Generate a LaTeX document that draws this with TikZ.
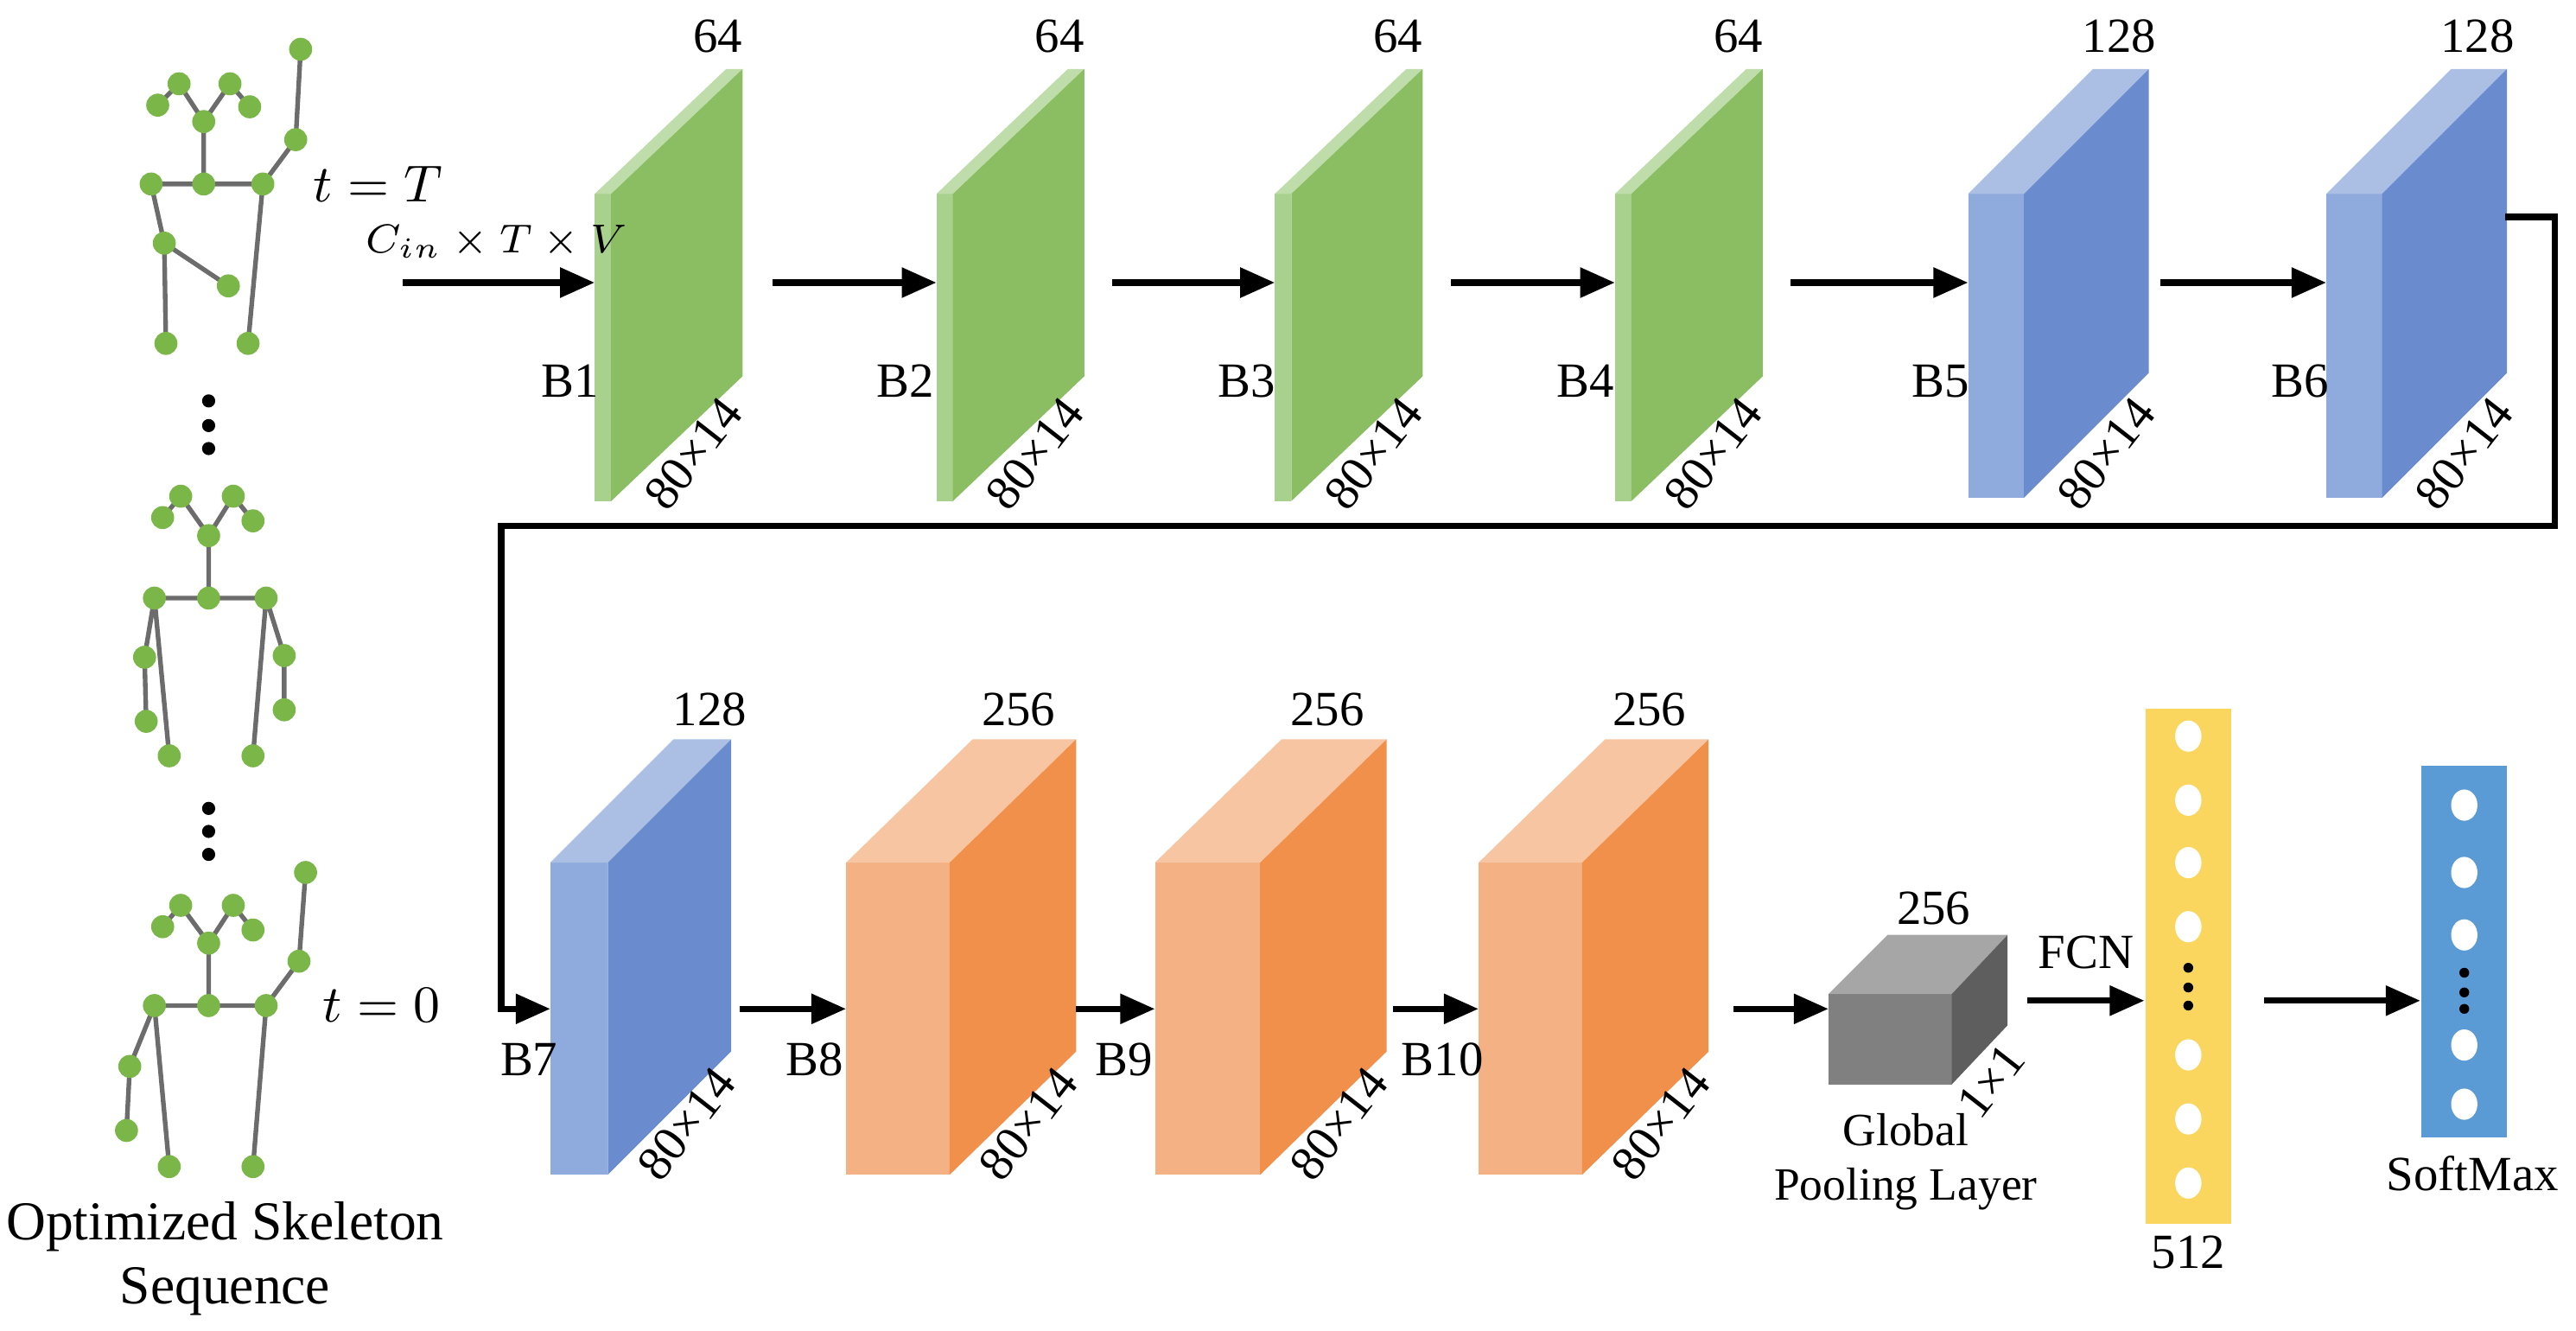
\documentclass[tikz,border=0pt]{standalone}
\usepackage{fontspec}
\setmainfont{Liberation Serif}
\usetikzlibrary{arrows.meta,calc,shapes.geometric}
\definecolor{gD}{HTML}{8BBE62}\definecolor{gL}{HTML}{A9D18E}
\definecolor{bD}{HTML}{6A8CCF}\definecolor{bL}{HTML}{8FAADC}
\definecolor{oD}{HTML}{F0904B}\definecolor{oL}{HTML}{F4B183}
\definecolor{yel}{HTML}{FAD65F}\definecolor{smb}{HTML}{5B9BD5}
\definecolor{jt}{HTML}{7AB648}
\newcommand\cube[9]{%
 \fill[#8] (#2,#4) rectangle (#3,#5);
 \fill[#8!75!white] (#2,#4)--(#3,#4)--(#3+#6,#4-#7)--(#2+#6,#4-#7)--cycle;
 \fill[#9] (#3,#4)--(#3+#6,#4-#7)--(#3+#6,#5-#7)--(#3,#5)--cycle;
 \coordinate (#1) at (#2,{(#4+#5)/2});
 \coordinate (#1r) at (#3+#6,#4-#7);}
\tikzset{
 arr/.style={line width=1.1pt,-{Triangle[length=6pt,width=5pt]}},
 lab/.style={font=\fontsize{8.5}{9}\selectfont,inner sep=0pt},
 j/.style={circle,fill=jt,minimum size=0.14cm,inner sep=0pt},
 bone/.style={draw=gray!85!black,line width=0.8pt},
 wc/.style={ellipse,fill=white,minimum width=0.16cm,minimum height=0.19cm,inner sep=0pt},
 dot/.style={circle,fill=black,minimum size=0.06cm,inner sep=0pt},
 bigdot/.style={circle,fill=black,minimum size=0.08cm,inner sep=0pt}
}
\begin{document}
\begin{tikzpicture}[x=0.01cm,y=-0.01cm]
\useasboundingbox (0,0) rectangle (1568,810);
% ---------- skeletons
\foreach \n/\p in {a1/{96,64},a2/{109,51},a3/{124,74},a4/{140,51},a5/{152,65},
 s1/{92,112},s2/{124,112},s3/{160,112},r1/{180,85},r2/{183,30},l1/{100,148},l2/{139,174},f1/{101,209},f2/{151,209}}
 \coordinate (T\n) at (\p);
\draw[bone] (Ta1)--(Ta2)--(Ta3)--(Ta4)--(Ta5) (Ta3)--(Ts2) (Ts1)--(Ts3)--(Tr1)--(Tr2)
 (Ts1)--(Tl1)--(Tl2) (Tl1)--(Tf1) (Ts3)--(Tf2);
\foreach \n in {a1,a2,a3,a4,a5,s1,s2,s3,r1,r2,l1,l2,f1,f2} \node[j] at (T\n) {};
\node[lab,font=\fontsize{9.5}{11}\selectfont,anchor=west] (tT) at (190,112) {$t=T$};
% middle
\foreach \n/\p in {a1/{99,315},a2/{110,302},a3/{127,326},a4/{142,302},a5/{154,317},
 s1/{94,364},s2/{127,364},s3/{162,364},l1/{88,400},l2/{89,439},f1/{103,460},r1/{173,399},r2/{173,432},f2/{154,460}}
 \coordinate (M\n) at (\p);
\draw[bone] (Ma1)--(Ma2)--(Ma3)--(Ma4)--(Ma5) (Ma3)--(Ms2) (Ms1)--(Ms3)
 (Ms1)--(Ml1)--(Ml2) (Ms1)--(Mf1) (Ms3)--(Mr1)--(Mr2) (Ms3)--(Mf2);
\foreach \n in {a1,a2,a3,a4,a5,s1,s2,s3,r1,r2,l1,l2,f1,f2} \node[j] at (M\n) {};
% bottom
\foreach \n/\p in {a1/{99,564},a2/{110,551},a3/{127,574},a4/{142,551},a5/{154,566},
 s1/{94,612},s2/{127,612},s3/{162,612},r1/{182,585},r2/{186,531},l1/{79,649},l2/{77,688},f1/{103,710},f2/{154,710}}
 \coordinate (Z\n) at (\p);
\draw[bone] (Za1)--(Za2)--(Za3)--(Za4)--(Za5) (Za3)--(Zs2) (Zs1)--(Zs3)--(Zr1)--(Zr2)
 (Zs1)--(Zl1)--(Zl2) (Zs1)--(Zf1) (Zs3)--(Zf2);
\foreach \n in {a1,a2,a3,a4,a5,s1,s2,s3,r1,r2,l1,l2,f1,f2} \node[j] at (Z\n) {};
\node[lab,font=\fontsize{9.5}{11}\selectfont,anchor=west] (t0) at (196,612) {$t=0$};
\foreach \y [count=\i] in {244,259,273} \node[bigdot] (d1\i) at (127,\y) {};
\foreach \y [count=\i] in {492,506,520} \node[bigdot] (d2\i) at (127,\y) {};
\node[font=\fontsize{9.5}{11}\selectfont,align=center,inner sep=0pt] (seq) at (137,766) {Optimized Skeleton\\Sequence};
% ---------- top row
\cube{B1}{362}{372}{118}{305}{80}{76}{gL}{gD}
\cube{B2}{570}{580}{118}{305}{80}{76}{gL}{gD}
\cube{B3}{776}{786}{118}{305}{80}{76}{gL}{gD}
\cube{B4}{983}{993}{118}{305}{80}{76}{gL}{gD}
\cube{B5}{1198}{1232}{118}{303}{76}{76}{bL}{bD}
\cube{B6}{1416}{1450}{118}{303}{76}{76}{bL}{bD}
\foreach \b/\x/\t in {B1/437/64,B2/645/64,B3/851/64,B4/1058/64,B5/1290/128,B6/1508/128}
 \node[lab] (n\b) at (\x,22) {\t};
\foreach \b/\x in {B1/372,B2/580,B3/786,B4/993,B5/1232,B6/1450}
 \node[lab,rotate=52] (s\b) at (\x+50,276) {80×14};
\foreach \b/\x in {B1/347,B2/551,B3/759,B4/965,B5/1181,B6/1400}
 \node[lab] (l\b) at (\x,232) {\b};
\coordinate (in0) at (245,172);
\draw[arr] (in0) -- (B1|-in0);
\node[lab,font=\fontsize{7.5}{9}\selectfont] (cin) at (302,147) {$C_{in}\times T\times V$};
\coordinate (a2) at (470,172); \draw[arr] (a2) -- (B2|-a2);
\coordinate (a3) at (677,172); \draw[arr] (a3) -- (B3|-a3);
\coordinate (a4) at (883,172); \draw[arr] (a4) -- (B4|-a4);
\coordinate (a5) at (1090,172); \draw[arr] (a5) -- (B5|-a5);
\coordinate (a6) at (1315,172); \draw[arr] (a6) -- (B6|-a6);
% ---------- bottom row
\cube{B7}{335}{370}{525}{715}{75}{75}{bL}{bD}
\cube{B8}{515}{578}{525}{715}{77}{75}{oL}{oD}
\cube{B9}{703}{767}{525}{715}{77}{75}{oL}{oD}
\cube{B10}{900}{963}{525}{715}{77}{75}{oL}{oD}
\foreach \b/\x/\t in {B7/432/128,B8/620/256,B9/808/256,B10/1004/256}
 \node[lab] (n\b) at (\x,432) {\t};
\foreach \b/\x in {B7/370,B8/578,B9/767,B10/963}
 \node[lab,rotate=52] (s\b) at (\x+48,684) {80×14};
\foreach \b/\x in {B7/322,B8/496,B9/684,B10/878}
 \node[lab] (l\b) at (\x,645) {\b};
\coordinate (c1) at (1525,132);
\coordinate (c7) at (305,614);
\draw[arr] (c1) -- (1555,132) -- (1555,320) -- (305,320) -- (c7) -- (B7|-c7);
\coordinate (a8) at (450,614); \draw[arr] (a8) -- (B8|-a8);
\coordinate (a9) at (655,614); \draw[arr] (a9) -- (B9|-a9);
\coordinate (a10) at (848,614); \draw[arr] (a10) -- (B10|-a10);
% ---------- pooling cube
\fill[black!50] (1113,605) rectangle (1188,660);
\fill[black!35] (1113,605)--(1149,569)--(1222,569)--(1188,605)--cycle;
\fill[black!63] (1188,605)--(1222,569)--(1222,624)--(1188,660)--cycle;
\coordinate (GP) at (1113,614);
\coordinate (a11) at (1055,614);
\draw[arr] (a11) -- (GP);
\node[lab] (g256) at (1177,553) {256};
\node[lab,rotate=52] (g11) at (1212,658) {1×1};
\node[lab,align=center,font=\fontsize{8}{9.5}\selectfont] (gpl) at (1160,707) {Global\\Pooling Layer};
% ---------- FCN
\node[fill=yel,minimum width=0.52cm,minimum height=3.13cm,inner sep=0pt] (fc) at (1332,588) {};
\foreach \y in {448,487,525,564,642,681,720} \node[wc] at (1332,\y) {};
\foreach \y in {589,601,612} \node[dot] at (1332,\y) {};
\node[lab] (n512) at (1332,762) {512};
\coordinate (a12) at (1234,609);
\draw[arr] (a12) -- (fc.west|-a12) node[midway,above=5pt,lab] (fcn) {FCN};
\node[fill=smb,minimum width=0.52cm,minimum height=2.26cm,inner sep=0pt] (sm) at (1500,579) {};
\foreach \y in {490,531,569,636,672} \node[wc] at (1500,\y) {};
\foreach \y in {592,604,614} \node[dot] at (1500,\y) {};
\node[lab] (smt) at (1505,714) {SoftMax};
\coordinate (a13) at (1378,609);
\draw[arr] (a13) -- (sm.west|-a13);
\end{tikzpicture}
\end{document}
